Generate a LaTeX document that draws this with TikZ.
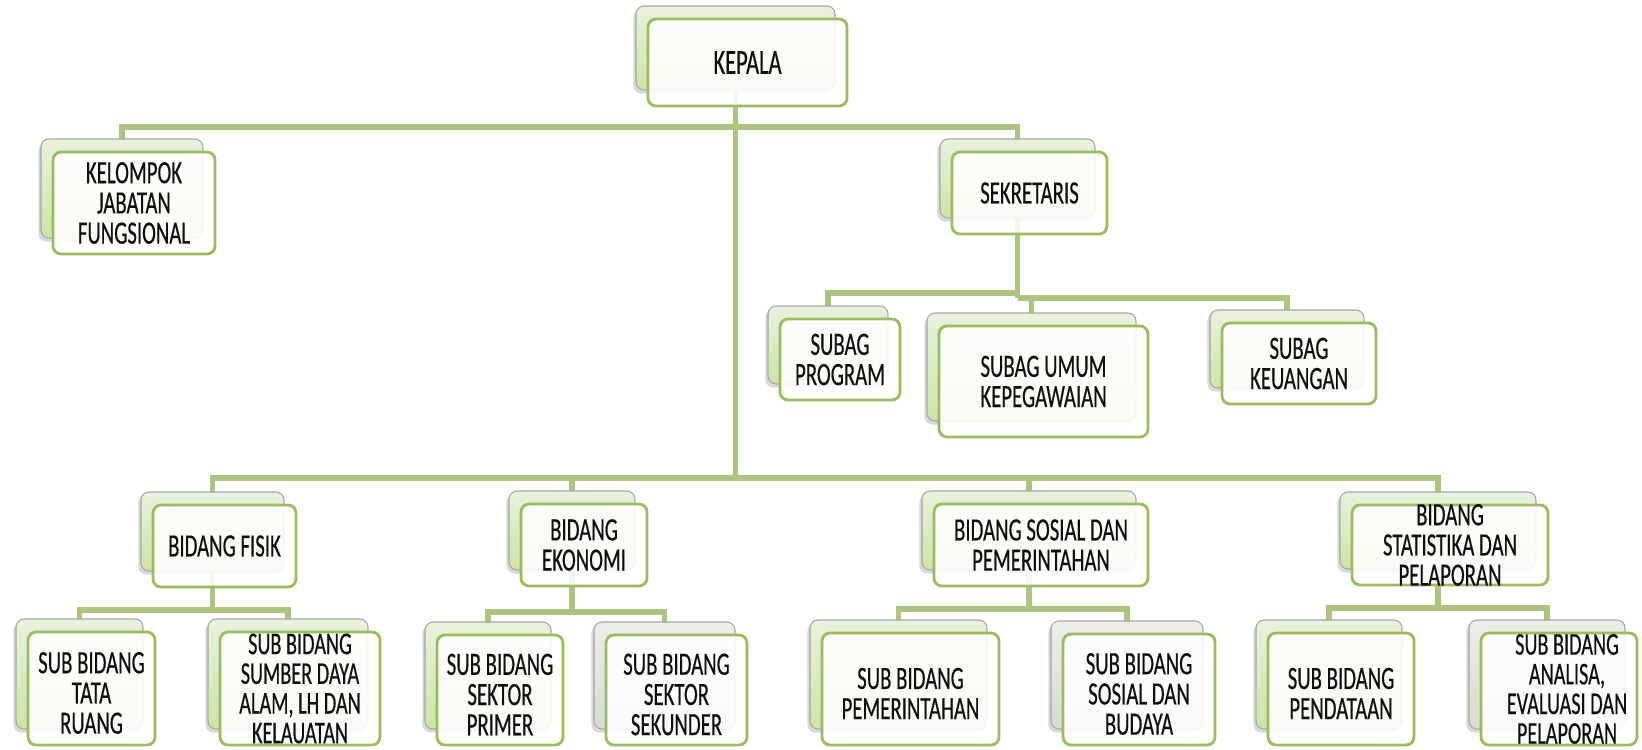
\documentclass[tikz,border=0pt]{standalone}
\usepackage{fontspec}
\setmainfont{Carlito}[FakeStretch=0.64,FakeBold=0.4]
\usetikzlibrary{shadows,backgrounds}
\definecolor{connc}{RGB}{172,196,128}
\definecolor{fborder}{RGB}{155,187,95}
\definecolor{btop}{RGB}{232,241,222}
\definecolor{bbot}{RGB}{203,229,166}
\definecolor{gtop}{RGB}{236,238,233}
\definecolor{gbot}{RGB}{214,220,206}
\definecolor{txt}{RGB}{15,15,15}
\tikzset{
  connline/.style={draw=connc, line width=2.9pt},
  backbox/.style={draw=gray!70, line width=0.6pt, rounded corners=0.16cm,
    top color=btop, bottom color=bbot,
    drop shadow={shadow xshift=-1.5pt,shadow yshift=-2pt,opacity=0.3},
    inner sep=0pt, outer sep=0pt},
  greyback/.style={top color=gtop, bottom color=gbot},
  frontbox/.style={draw=fborder, line width=1.6pt, rounded corners=0.16cm,
    fill=white, fill opacity=0.88, inner sep=0pt, outer sep=0pt},
  every boxtext/.style={},
  boxtext/.style={align=center, text=txt, font=\fontsize{18.5}{17.2}\selectfont, inner sep=0pt, every boxtext},
}
% #1 back style, #2 name, #3 x1, #4 y1, #5 x2, #6 y2 (front box, px), #7 text
\newcommand\orgbox[7][]{%
  \path ({(#3+#5)/2-12},{(#4+#6)/2-14.5}) node[backbox,#1,
     minimum width={(#5-#3)*0.02cm}, minimum height={(#6-#4-3)*0.02cm}] (#2) {};
  \path ({(#3+#5)/2},{(#4+#6)/2}) node[frontbox,
     minimum width={(#5-#3)*0.02cm}, minimum height={(#6-#4)*0.02cm}] (#2-f) {};
  \path (#2-f.center) node[boxtext] (#2-t) {#7};
}
\begin{document}
\begin{tikzpicture}[x=0.02cm,y=-0.02cm]
\useasboundingbox (0,0) rectangle (1642,750);
\clip (0,0) rectangle (1642,750);

% top
\orgbox{kepala}{648}{19}{847}{106}{\fontsize{20}{20}\selectfont KEPALA}
\orgbox{kelompok}{53}{152}{215}{254}{KELOMPOK\\JABATAN\\FUNGSIONAL}
\orgbox{sekretaris}{952}{152}{1107}{234}{SEKRETARIS}
% subag
\orgbox{subprog}{780}{319}{900}{400}{SUBAG\\PROGRAM}
\orgbox{subumum}{939}{326}{1148}{437}{SUBAG UMUM\\KEPEGAWAIAN}
\orgbox{subkeu}{1222}{323}{1376}{404}{SUBAG\\KEUANGAN}
% bidang
\orgbox{fisik}{153}{505}{296}{587}{BIDANG FISIK}
\orgbox{ekonomi}{521}{504}{647}{586}{BIDANG\\EKONOMI}
\orgbox{sosial}{934}{504}{1148}{586}{BIDANG SOSIAL DAN\\PEMERINTAHAN}
\orgbox{statistika}{1352}{505}{1548}{585}{BIDANG\\STATISTIKA DAN\\PELAPORAN}
% sub bidang
\begin{scope}[every boxtext/.style={font=\fontsize{18}{16.9}\selectfont}]
\orgbox{sumber}{220}{632}{380}{745}{SUB BIDANG\\SUMBER DAYA\\ALAM, LH DAN\\KELAUATAN}
\end{scope}
\begin{scope}[every boxtext/.style={font=\fontsize{18}{16.9}\selectfont, xshift=0.16cm}]
\orgbox[greyback]{analisa}{1481}{633}{1637}{745}{SUB BIDANG\\ANALISA,\\EVALUASI DAN\\PELAPORAN}
\end{scope}
\begin{scope}[every boxtext/.style={yshift=-0.09cm}]
\orgbox{tata}{28}{632}{155}{745}{SUB BIDANG\\TATA\\RUANG}
\orgbox{primer}{437}{635}{563}{745}{SUB BIDANG\\SEKTOR\\PRIMER}
\orgbox[greyback]{sekunder}{606}{635}{747}{745}{SUB BIDANG\\SEKTOR\\SEKUNDER}
\orgbox{pemerintahan}{822}{633}{999}{745}{SUB BIDANG\\PEMERINTAHAN}
\orgbox[greyback]{sosbud}{1063}{634}{1215}{745}{SUB BIDANG\\SOSIAL DAN\\BUDAYA}
\orgbox{pendataan}{1268}{633}{1414}{745}{SUB BIDANG\\PENDATAAN}
\end{scope}

\coordinate (h0) at (0,127);
\coordinate (hs1) at (0,293);
\coordinate (hs2) at (0,298);
\coordinate (hb) at (0,478);
\coordinate (hfis) at (0,610);
\coordinate (heko) at (0,612);
\coordinate (hsos) at (0,609);
\coordinate (hsta) at (0,608);

\begin{scope}[on background layer]
\fill[white] (0,0) rectangle (1642,750);
\draw[connline] (kepala.south) -- (kepala.south |- hb);
\draw[connline] (kelompok.north) |- (sekretaris.north |- h0) -- (sekretaris.north);
\draw[connline] (sekretaris.south) -- (sekretaris.south |- hs2);
\draw[connline] (subprog.north) |- (sekretaris.south |- hs1);
\draw[connline] (sekretaris.south |- hs2) -| (subkeu.north);
\draw[connline] (subumum.north) -- (subumum.north |- hs2);
\draw[connline] (fisik.north) |- (statistika.north |- hb) -- (statistika.north);
\draw[connline] (ekonomi.north) -- (ekonomi.north |- hb);
\draw[connline] (sosial.north) -- (sosial.north |- hb);
\draw[connline] (fisik.south) -- (fisik.south |- hfis);
\draw[connline] (tata.north) |- (sumber.north |- hfis) -- (sumber.north);
\draw[connline] (ekonomi.south) -- (ekonomi.south |- heko);
\draw[connline] (primer.north) |- (sekunder.north |- heko) -- (sekunder.north);
\draw[connline] (sosial.south) -- (sosial.south |- hsos);
\draw[connline] (pemerintahan.north) |- (sosbud.north |- hsos) -- (sosbud.north);
\draw[connline] (statistika.south) -- (statistika.south |- hsta);
\draw[connline] (pendataan.north) |- (analisa.north |- hsta) -- (analisa.north);
\end{scope}
\end{tikzpicture}
\end{document}
